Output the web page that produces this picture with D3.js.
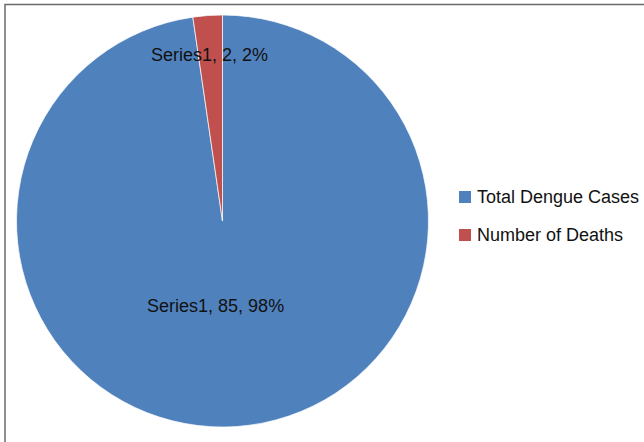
<!DOCTYPE html>
<html>
<head>
<meta charset="utf-8">
<script src="https://cdn.jsdelivr.net/npm/d3@7"></script>
<style>
  body { margin: 0; background: #fff; }
  text { font-family: "Liberation Sans", Arial, sans-serif; fill: #111; }
</style>
</head>
<body>
<div id="chart"></div>
<script>
const categories = ['Total Dengue Cases', 'Number of Deaths'];
const values = [85, 2];
const seriesName = 'Series1';
const colors = ['#4F81BD', '#C0504D'];

const dims = {width: 644, height: 442, radius: 206};
const cent = {x: 222.5, y: 221};

const svg = d3.select('#chart')
    .append('svg')
    .attr('width', dims.width)
    .attr('height', dims.height);

// chart frame (right/bottom edges fall outside the picture)
svg.append('rect')
    .attr('x', 5)
    .attr('y', 4.5)
    .attr('width', 700)
    .attr('height', 500)
    .attr('fill', 'none')
    .attr('stroke', '#6b6b6b')
    .attr('stroke-width', 1.5);

const graph = svg.append('g')
    .attr('transform', `translate(${cent.x}, ${cent.y})`);

const data = categories.map((name, i) => ({name, value: values[i]}));
const total = d3.sum(values);

const pie = d3.pie()
    .sort(null)
    .value(d => d.value);

const arcPath = d3.arc()
    .outerRadius(dims.radius)
    .innerRadius(0);

const color = d3.scaleOrdinal(categories, colors);

const slices = pie(data);

graph.selectAll('path')
    .data(slices)
    .enter()
    .append('path')
        .attr('d', arcPath)
        .attr('fill', d => color(d.data.name))
        .attr('stroke', '#fff')
        .attr('stroke-width', 0.7);

// label distance from centre (fraction of radius) and x nudge
const labelPos = [0.41, 0.81];
const labelDx = [-13, -1];

graph.selectAll('text.lbl')
    .data(slices)
    .enter()
    .append('text')
        .attr('class', 'lbl')
        .attr('transform', (d, i) => {
            const r = dims.radius * labelPos[i];
            const a = (d.startAngle + d.endAngle) / 2;
            return `translate(${Math.sin(a) * r + labelDx[i]}, ${-Math.cos(a) * r})`;
        })
        .attr('text-anchor', 'middle')
        .attr('dy', '0.35em')
        .style('font-size', '18px')
        .text(d => `${seriesName}, ${d.data.value}, ${Math.round(d.data.value / total * 100)}%`);

const legend = svg.append('g')
    .attr('transform', 'translate(459, 191)');

const items = legend.selectAll('g')
    .data(categories)
    .enter()
    .append('g')
        .attr('transform', (d, i) => `translate(0, ${i * 38})`);

items.append('rect')
    .attr('width', 12)
    .attr('height', 12)
    .attr('fill', d => color(d));

items.append('text')
    .attr('x', 18)
    .attr('y', 12)
    .style('font-size', '18px')
    .text(d => d);
</script>
</body>
</html>
